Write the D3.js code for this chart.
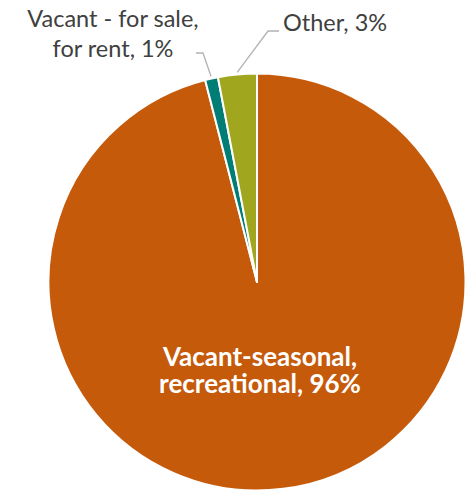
<!DOCTYPE html>
<html>
<head>
<meta charset="utf-8">
<script src="https://cdn.jsdelivr.net/npm/d3@7"></script>
<style>
  html, body { margin: 0; padding: 0; background: #fff; }
  svg { display: block; }
</style>
</head>
<body>
<svg id="chart" width="473" height="491"></svg>
<script>
// Housing vacancy breakdown
const categories = ["Vacant-seasonal, recreational", "Vacant - for sale, for rent", "Other"];
const values = [96, 1, 3];
const colors = ["#C55A0B", "#007D74", "#A0A61E"];

const width = 473, height = 491;
const cx = 257, cy = 282, radius = 208.5;

const svg = d3.select("#chart");
const g = svg.append("g").attr("transform", `translate(${cx},${cy})`);

const pie = d3.pie().sort(null).value(d => d.value).startAngle(0).endAngle(2 * Math.PI);
const arc = d3.arc().innerRadius(0).outerRadius(radius);

const data = categories.map((c, i) => ({ name: c, value: values[i], color: colors[i] }));
const arcs = pie(data);

g.selectAll("path.slice")
  .data(arcs)
  .join("path")
  .attr("class", "slice")
  .attr("d", arc)
  .attr("fill", d => d.data.color)
  .attr("stroke", "#fff")
  .attr("stroke-width", 2)
  .attr("stroke-linejoin", "round");

const font = "Lato, 'Open Sans', sans-serif";

// point on the rim at the middle of a slice
function rimPoint(a, r) {
  const ang = (a.startAngle + a.endAngle) / 2;
  return [Math.sin(ang) * r, -Math.cos(ang) * r];
}

// Leader lines for the two small slices
const saleRim = rimPoint(arcs[1], radius + 2);
const otherRim = rimPoint(arcs[2], radius + 2);

g.append("polyline")
  .attr("points", [saleRim, [-54, -229], [-61, -229]].map(p => p.join(",")).join(" "))
  .attr("fill", "none").attr("stroke", "#b3b3b3").attr("stroke-width", 1.3);

g.append("polyline")
  .attr("points", [otherRim, [11, -251], [22, -251]].map(p => p.join(",")).join(" "))
  .attr("fill", "none").attr("stroke", "#b3b3b3").attr("stroke-width", 1.3);

// Outside labels
const outside = svg.append("g")
  .attr("font-family", font)
  .attr("font-size", 23.5)
  .attr("fill", "#404040");

outside.append("text")
  .attr("x", 283).attr("y", 31)
  .text(`${categories[2]}, ${values[2]}%`);

const saleLbl = outside.append("text").attr("text-anchor", "middle");
saleLbl.append("tspan").attr("x", 113).attr("y", 27).text("Vacant - for sale,");
saleLbl.append("tspan").attr("x", 113).attr("y", 57).text(`for rent, ${values[1]}%`);

// Label inside the large slice
const inside = svg.append("text")
  .attr("font-family", font)
  .attr("font-size", 26)
  .attr("font-weight", "bold")
  .attr("fill", "#fff")
  .attr("text-anchor", "middle");
inside.append("tspan").attr("x", 260).attr("y", 365.5).text("Vacant-seasonal,");
inside.append("tspan").attr("x", 260).attr("y", 393).text(`recreational, ${values[0]}%`);
</script>
</body>
</html>
